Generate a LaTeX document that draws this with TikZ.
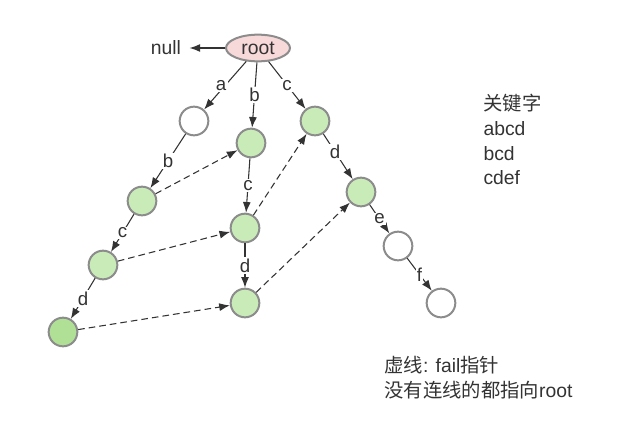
\documentclass[tikz,border=0pt]{standalone}
\usepackage{fontspec}
\setmainfont{Liberation Sans}
\newfontfamily\cjk{Noto Sans CJK SC}
\usetikzlibrary{arrows.meta,shapes.geometric}
\definecolor{trieline}{HTML}{8C8C8C}
\definecolor{triegreen}{HTML}{C9EBB8}
\definecolor{triedark}{HTML}{B0E096}
\definecolor{triepink}{HTML}{F8D9D9}
\definecolor{triearrow}{HTML}{333333}
\tikzset{
  trie/.style={circle,draw=trieline,line width=1.5pt,minimum size=21.5pt,inner sep=0pt,fill=white},
  word/.style={trie,fill=triegreen},
  lbl/.style={fill=white,inner sep=1pt,font=\fontsize{14}{16}\selectfont},
  fail/.style={->,dashed,dash pattern=on 5pt off 3pt},
}
\begin{document}
\begin{tikzpicture}[x=0.75pt,y=-0.75pt,>={Latex[length=8pt,width=6pt]},
    color=triearrow,line width=0.8pt,font=\fontsize{14.5}{18.5}\selectfont]
      \useasboundingbox (0,0) rectangle (622,425);

      \path (258,48) node [ellipse,draw=trieline,line width=1.5pt,fill=triepink,minimum width=48pt,minimum height=20pt,inner sep=0pt](root){root};
      \path (166,48) node [inner sep=6pt](null){null};
      \path (194,121) node [trie](n_a){};
      \path (251,143) node [word](n_b){};
      \path (315,121) node [word](n_c){};
      \path (142,201) node [word](n_ab){};
      \path (245,228) node [word](n_bc){};
      \path (361,192) node [word](n_cd){};
      \path (103,265) node [word](n_abc){};
      \path (245,303) node [word](n_bcd){};
      \path (398,246) node [trie](n_cde){};
      \path (63,332) node [word,fill=triedark](n_abcd){};
      \path (441,303) node [trie](n_cdef){};

      \draw[->] (root) -- (null);
      \draw[->] (root) -- node[lbl,xshift=-3pt]{a} (n_a);
      \draw[->] (root) -- node[lbl]{b} (n_b);
      \draw[->] (root) -- node[lbl]{c} (n_c);
      \draw[->] (n_a) -- node[lbl]{b} (n_ab);
      \draw[->] (n_ab) -- node[lbl]{c} (n_abc);
      \draw[->] (n_abc) -- node[lbl]{d} (n_abcd);
      \draw[->] (n_b) -- node[lbl]{c} (n_bc);
      \draw[->] (n_bc) -- node[lbl]{d} (n_bcd);
      \draw[->] (n_c) -- node[lbl,pos=0.4]{d} (n_cd);
      \draw[->] (n_cd) -- node[lbl]{e} (n_cde);
      \draw[->] (n_cde) -- node[lbl]{f} (n_cdef);

      % fail pointers
      \draw[fail] (n_ab) -- (n_b);
      \draw[fail] (n_abc) -- (n_bc);
      \draw[fail] (n_abcd) -- (n_bcd);
      \draw[fail] (n_bc) -- (n_c);
      \draw[fail] (n_bcd) -- (n_cd);

      \path (483,94) node [anchor=north west,align=left,inner sep=0pt](keys){{\cjk 关键字}\\abcd\\bcd\\cdef};
      \path (384,356) node [anchor=north west,align=left,inner sep=0pt](note){{\cjk 虚线}: fail{\cjk 指针}\\{\cjk 没有连线的都指向}root};

    \end{tikzpicture}
\end{document}
